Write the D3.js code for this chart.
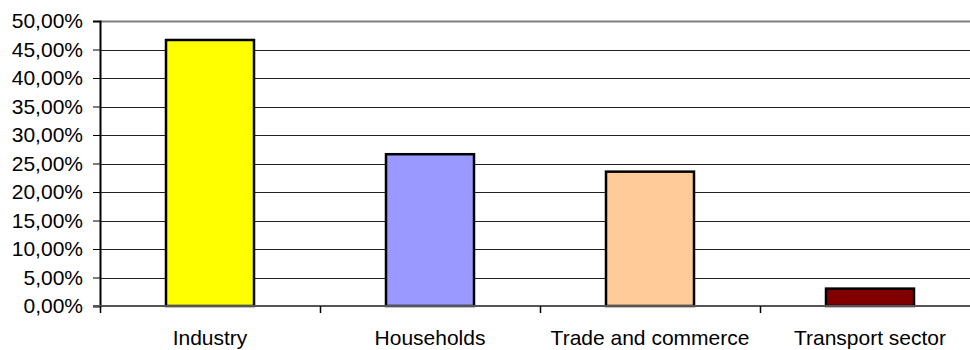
<!DOCTYPE html>
<html>
<head>
<meta charset="utf-8">
<script src="https://cdn.jsdelivr.net/npm/d3@7"></script>
<style>
  body { margin: 0; background: #fff; }
  svg { display: block; font-family: "Liberation Sans", Arial, sans-serif; }
</style>
</head>
<body>
<div id="chart"></div>
<script>
// data
var categories = ["Industry", "Households", "Trade and commerce", "Transport sector"];
var shares = [0.4667, 0.2663, 0.2357, 0.0305];
var colors = ["#ffff00", "#9999ff", "#ffcc99", "#800000"];
var yTicks = [0, 0.05, 0.10, 0.15, 0.20, 0.25, 0.30, 0.35, 0.40, 0.45, 0.50];

var width = 970,
    height = 350;

// plot area runs past the right edge (it is cut off in the original too)
// (don't call it "top" - clashes with window.top)
var plotLeft = 100, plotRight = 980, plotTop = 21, plotBottom = 306;

var svg = d3.select("#chart").append("svg")
    .attr("width", width)
    .attr("height", height);

// comma decimal like the original
var loc = d3.formatLocale({decimal: ",", thousands: ".", grouping: [3], currency: ["", ""]});
var fmt = loc.format(".2%");

var x = d3.scaleBand()
    .domain(categories)
    .range([plotLeft, plotRight])
    .paddingInner(0.6)
    .paddingOuter(0.3);

var y = d3.scaleLinear()
    .domain([0, 0.5])
    .range([plotBottom, plotTop]);

// gridlines
svg.append("g").selectAll("line")
  .data(yTicks.slice(1))
  .enter().append("line")
    .attr("x1", plotLeft).attr("x2", width)
    .attr("y1", function(d) { return Math.round(y(d)) + 0.5; })
    .attr("y2", function(d) { return Math.round(y(d)) + 0.5; })
    .attr("stroke", function(d) { return d === 0.5 ? "#808080" : "#222"; })
    .attr("stroke-width", function(d) { return d === 0.5 ? 2 : 1; });

// y axis
var yAxis = d3.axisLeft(y)
    .tickValues(yTicks)
    .tickFormat(function(d) { return fmt(d); })
    .tickSize(7)
    .tickPadding(10);

var ya = svg.append("g")
    .attr("transform", "translate(" + plotLeft + ",0)")
    .call(yAxis);
ya.select(".domain").attr("stroke", "#000").attr("stroke-width", 2);
ya.selectAll(".tick line").attr("stroke", "#000");
ya.selectAll("text")
    .attr("fill", "#000")
    .style("font-size", "21px")
    .style("font-family", "Liberation Sans, Arial, sans-serif");

// bars
svg.append("g").selectAll("rect")
  .data(shares)
  .enter().append("rect")
    .attr("x", function(d, i) { return x(categories[i]); })
    .attr("y", function(d) { return y(d); })
    .attr("width", x.bandwidth())
    .attr("height", function(d) { return y(0) - y(d); })
    .attr("fill", function(d, i) { return colors[i]; })
    .attr("stroke", "#000")
    .attr("stroke-width", 2.5);

// x baseline
svg.append("line")
    .attr("x1", plotLeft - 7).attr("x2", width)
    .attr("y1", plotBottom).attr("y2", plotBottom)
    .attr("stroke", "#555")
    .attr("stroke-width", 2);

// category boundary ticks
var gap = x.step() * x.paddingInner() / 2;
var bounds = categories.map(function(c) { return x(c) - gap; });
bounds.push(x(categories[categories.length - 1]) + x.bandwidth() + gap);
svg.append("g").selectAll("line")
  .data(bounds)
  .enter().append("line")
    .attr("x1", function(d) { return Math.round(d) + 0.5; })
    .attr("x2", function(d) { return Math.round(d) + 0.5; })
    .attr("y1", plotBottom).attr("y2", plotBottom + 7)
    .attr("stroke", "#000")
    .attr("stroke-width", 1.5);

// category labels
svg.append("g").selectAll("text")
  .data(categories)
  .enter().append("text")
    .attr("x", function(d) { return x(d) + x.bandwidth() / 2; })
    .attr("y", 345)
    .attr("text-anchor", "middle")
    .style("font-size", "21px")
    .attr("fill", "#000")
    .text(function(d) { return d; });
</script>
</body>
</html>
